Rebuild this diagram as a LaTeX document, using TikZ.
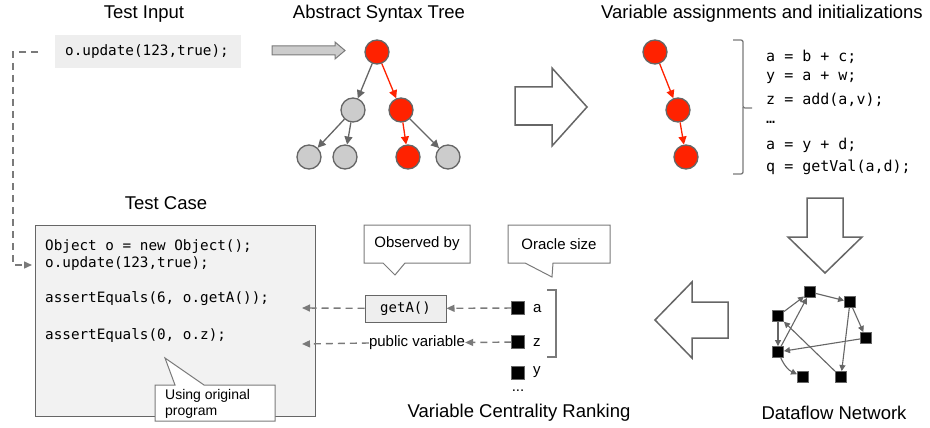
\documentclass[tikz,border=0pt]{standalone}
\usepackage{fontspec}
\setmainfont{Liberation Sans}
\setmonofont{DejaVu Sans Mono}
\usetikzlibrary{arrows.meta}
\definecolor{myred}{HTML}{FF2200}
\definecolor{cgray}{HTML}{CCCCCC}
\definecolor{dgray}{HTML}{666666}
\definecolor{mgray}{HTML}{7A7A7A}
\definecolor{lgray}{HTML}{EEEEEE}
\definecolor{boxgray}{HTML}{F2F2F2}
\begin{document}
\begin{tikzpicture}[x=1pt,y=-1pt,
  title/.style={font=\fontsize{18.5}{20}\selectfont,inner sep=0},
  redn/.style={circle,fill=myred,draw=dgray,line width=1.3pt,minimum size=24pt,inner sep=0},
  grayn/.style={circle,fill=cgray,draw=dgray,line width=1.3pt,minimum size=24pt,inner sep=0},
  gedge/.style={-{Triangle[length=8pt,width=8pt]},line width=1.3pt,draw=dgray,fill=dgray},
  redge/.style={-{Triangle[length=8pt,width=8pt]},line width=1.3pt,draw=myred,fill=myred},
  codeR/.style={anchor=west,font=\ttfamily\fontsize{15}{17}\selectfont,inner sep=0},
  codeL/.style={anchor=west,font=\ttfamily\fontsize{14.3}{16}\selectfont,inner sep=0},
  small/.style={font=\fontsize{15}{17}\selectfont,inner sep=0},
  dline/.style={draw=mgray,line width=1.4pt,dash pattern=on 7pt off 5pt},
  darr/.style={dline,-{Triangle[length=8pt,width=7pt]}},
  blockarrow/.style={draw=dgray,fill=white,line width=1.5pt,line join=miter},
  sq/.style={rectangle,fill=black,draw=dgray,line width=0.9pt,minimum size=11pt,inner sep=0},
  nedge/.style={-{Triangle[length=6pt,width=6pt]},draw=dgray,line width=1.1pt},
  callout/.style={draw=mgray,fill=white,line width=1pt}
]
\useasboundingbox (0,0) rectangle (930,428);
\fill[white] (0,0) rectangle (930,428);

% Titles
\node[title] (t1) at (144,14) {Test Input};
\node[title] (t2) at (379,14) {Abstract Syntax Tree};
\node[title] (t3) at (762,14) {Variable assignments and initializations};
\node[title] (t4) at (166,203) {Test Case};
\node[title] (t5) at (519,413) {Variable Centrality Ranking};
\node[title] (t6) at (834,413) {Dataflow Network};

% Test input
\fill[lgray] (55,35) rectangle (241,68);
\node[codeL] (ti) at (65,52) {o.update(123,true);};

% gray shaft arrow
\draw[draw=mgray,fill=cgray,line width=1pt] (272,46) -- (335,46) -- (335,42) -- (345,50.5) -- (335,59) -- (335,55) -- (272,55) -- cycle;

% AST
\node[redn] (r0) at (377,52) {};
\node[grayn] (a1) at (353,110) {};
\node[redn] (r1) at (401,110) {};
\node[grayn] (b1) at (309,157) {};
\node[grayn] (b2) at (345,157) {};
\node[redn] (r2) at (408,157) {};
\node[grayn] (b4) at (448,157) {};
\draw[gedge] (r0) -- (a1);
\draw[redge] (r0) -- (r1);
\draw[gedge] (a1) -- (b1);
\draw[gedge] (a1) -- (b2);
\draw[redge] (r1) -- (r2);
\draw[gedge] (r1) -- (b4);

% right block arrow
\draw[blockarrow] (515,87) -- (552,87) -- (552,68) -- (587,107) -- (552,146) -- (552,125) -- (515,125) -- cycle;

% red chain
\node[redn] (c1) at (655,52) {};
\node[redn] (c2) at (678,110) {};
\node[redn] (c3) at (686,157) {};
\draw[redge] (c1) -- (c2);
\draw[redge] (c2) -- (c3);

% brace
\draw[draw=mgray,line width=1.3pt,rounded corners=2pt] (733,40) -- (743,40) -- (743,108) -- (752,108);
\draw[draw=mgray,line width=1.3pt,rounded corners=2pt] (743,107) -- (743,174) -- (733,174);

% code
\node[codeR] (l1) at (766,57) {a = b + c;};
\node[codeR] (l2) at (766,78) {y = a + w;};
\node[codeR] (l3) at (766,100) {z = add(a,v);};
\node[codeR] (l4) at (766,122) {…};
\node[codeR] (l5) at (766,145) {a = y + d;};
\node[codeR] (l6) at (766,167) {q = getVal(a,d);};

% down block arrow
\draw[blockarrow] (807,198) -- (843,198) -- (843,237) -- (862,237) -- (825,273) -- (788,237) -- (807,237) -- cycle;

% dataflow network
\node[sq] (n1) at (810,292) {};
\node[sq] (n2) at (850,302) {};
\node[sq] (n3) at (778,316) {};
\node[sq] (n4) at (866,338) {};
\node[sq] (n5) at (778,352) {};
\node[sq] (n6) at (803,377) {};
\node[sq] (n7) at (841,377) {};
\draw[nedge] (n3) -- (n1);
\draw[nedge] (n1) -- (n2);
\draw[nedge] (n2) -- (n4);
\draw[nedge] (n2) -- (n7);
\draw[nedge] (n3) -- (n5);
\draw[nedge] (n5) -- (n1);
\draw[nedge] (n4) -- (n5);
\draw[nedge] (n7) -- (n3);
\draw[nedge] (n5) to[bend right=20] (n6);

% left block arrow
\draw[blockarrow] (728,302) -- (692,302) -- (692,282) -- (655,320) -- (692,358) -- (692,338) -- (728,338) -- cycle;

% Test case box
\draw[draw=dgray,fill=boxgray,line width=1pt] (35,225) rectangle (315,416);
\node[codeL] (k1) at (45,247) {Object o = new Object();};
\node[codeL] (k2) at (45,264) {o.update(123,true);};
\node[codeL] (k3) at (45,299) {assertEquals(6, o.getA());};
\node[codeL] (k4) at (45,336) {assertEquals(0, o.z);};

% dashed connector from test input to test case
\coordinate (ds) at (38,52);
\coordinate (dc) at (13,52);
\coordinate (dd) at (13,265);
\coordinate (de) at (32,265);
\draw[darr] (ds) -- (dc) -- (dd) -- (de);

% using original program callout
\draw[callout] (155,385) -- (175,385) -- (165,358) -- (204,385) -- (275,385) -- (275,421) -- (155,421) -- cycle;
\node[anchor=west,font=\fontsize{14}{16}\selectfont,inner sep=0] (u1) at (165,396) {Using original};
\node[anchor=west,font=\fontsize{14}{16}\selectfont,inner sep=0] (u2) at (165,413) {program};

% callouts top
\draw[callout] (364,225) -- (470,225) -- (470,263) -- (405,263) -- (395,275) -- (383,263) -- (364,263) -- cycle;
\node[small] (ob) at (417,244) {Observed by};
\draw[callout] (508,225) -- (610,225) -- (610,263) -- (553,263) -- (552,277) -- (525,263) -- (508,263) -- cycle;
\node[small] (os) at (559,244) {Oracle size};

% getA box
\node[draw=dgray,fill=lgray,line width=1pt,minimum width=81pt,minimum height=27pt,inner sep=0,font=\ttfamily\fontsize{14}{16}\selectfont] (ga) at (405.5,308.5) {getA()};
\node[small] (pv) at (417,343) {public variable};

% ranking squares
\node[sq,minimum size=12.5pt] (qa) at (518,308) {};
\node[sq,minimum size=12.5pt] (qz) at (518,342) {};
\node[sq,minimum size=12.5pt] (qy) at (518,373) {};
\node[small,anchor=west] (la) at (533,309) {a};
\node[small,anchor=west] (lz) at (533,343) {z};
\node[small,anchor=west] (ly) at (533,372) {y};
\node[small] (dots) at (518,391) {...};
\draw[draw=mgray,line width=1.3pt] (547,290) -- (556,290) -- (556,357) -- (547,357);

% dashed arrows to test case
\coordinate (e1) at (302,308);
\coordinate (e2) at (302,344);
\draw[darr] (qa) -- (ga);
\draw[darr] (ga) -- (e1);
\draw[darr] (qz) -- (pv);
\draw[darr] (pv.west) -- (e2);
\end{tikzpicture}
\end{document}
